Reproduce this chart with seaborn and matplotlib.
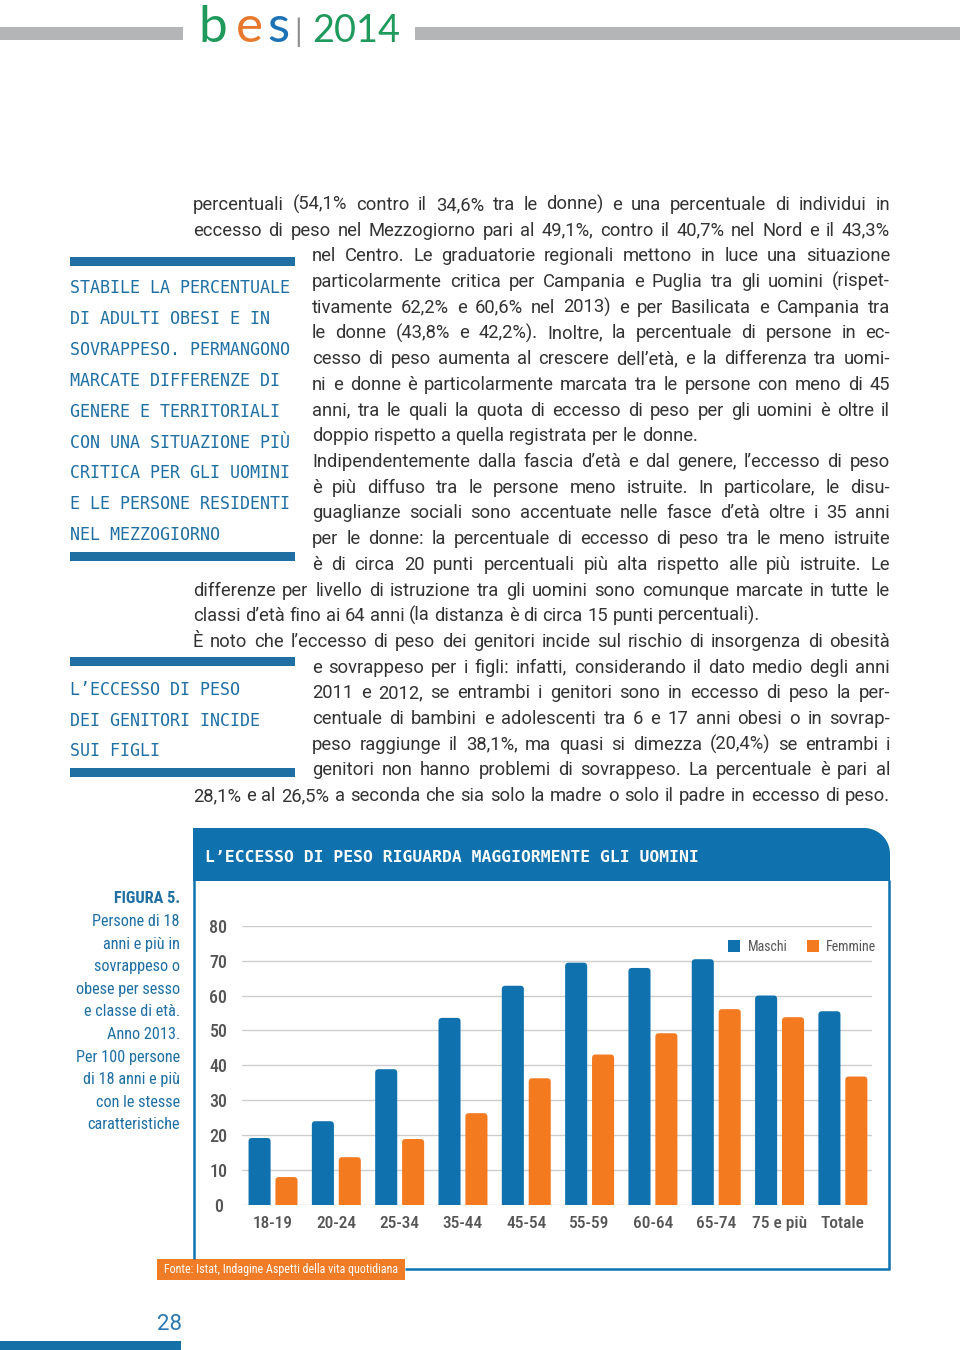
import numpy as np
import pandas as pd
import matplotlib
matplotlib.use("Agg")
import matplotlib.pyplot as plt
import seaborn as sns
from matplotlib import font_manager
from matplotlib.patches import Rectangle, Polygon, FancyBboxPatch

# ---------------- data ----------------
categorie = ["18-19", "20-24", "25-34", "35-44", "45-54", "55-59", "60-64", "65-74", "75 e più", "Totale"]
maschi = [19.2, 24.0, 38.9, 53.6, 62.8, 69.4, 67.9, 70.4, 60.0, 55.5]
femmine = [8.0, 13.7, 18.9, 26.3, 36.3, 43.1, 49.2, 56.1, 53.8, 36.8]
serie = ["Maschi", "Femmine"]
y_ticks = [0, 10, 20, 30, 40, 50, 60, 70, 80]

titolo_grafico = "L’ECCESSO DI PESO RIGUARDA MAGGIORMENTE GLI UOMINI"
didascalia = ["Persone di 18", "anni e più in", "sovrappeso o", "obese per sesso",
              "e classe di età.", "Anno 2013.", "Per 100 persone", "di 18 anni e più",
              "con le stesse", "caratteristiche"]
figura = "FIGURA 5."
fonte = "Fonte: Istat, Indagine Aspetti della vita quotidiana"
box1 = ["STABILE LA PERCENTUALE", "DI ADULTI OBESI E IN", "SOVRAPPESO. PERMANGONO",
        "MARCATE DIFFERENZE DI", "GENERE E TERRITORIALI", "CON UNA SITUAZIONE PIÙ",
        "CRITICA PER GLI UOMINI", "E LE PERSONE RESIDENTI", "NEL MEZZOGIORNO"]
box2 = ["L’ECCESSO DI PESO", "DEI GENITORI INCIDE", "SUI FIGLI"]
# (text, wide line?, justified?)
corpo = [
    ("percentuali (54,1% contro il 34,6% tra le donne) e una percentuale di individui in", True, True),
    ("eccesso di peso nel Mezzogiorno pari al 49,1%, contro il 40,7% nel Nord e il 43,3%", True, True),
    ("nel Centro. Le graduatorie regionali mettono in luce una situazione", False, True),
    ("particolarmente critica per Campania e Puglia tra gli uomini (rispet-", False, True),
    ("tivamente 62,2% e 60,6% nel 2013) e per Basilicata e Campania tra", False, True),
    ("le donne (43,8% e 42,2%). Inoltre, la percentuale di persone in ec-", False, True),
    ("cesso di peso aumenta al crescere dell’età, e la differenza tra uomi-", False, True),
    ("ni e donne è particolarmente marcata tra le persone con meno di 45", False, True),
    ("anni, tra le quali la quota di eccesso di peso per gli uomini è oltre il", False, True),
    ("doppio rispetto a quella registrata per le donne.", False, False),
    ("Indipendentemente dalla fascia d’età e dal genere, l’eccesso di peso", False, True),
    ("è più diffuso tra le persone meno istruite. In particolare, le disu-", False, True),
    ("guaglianze sociali sono accentuate nelle fasce d’età oltre i 35 anni", False, True),
    ("per le donne: la percentuale di eccesso di peso tra le meno istruite", False, True),
    ("è di circa 20 punti percentuali più alta rispetto alle più istruite. Le", False, True),
    ("differenze per livello di istruzione tra gli uomini sono comunque marcate in tutte le", True, True),
    ("classi d’età fino ai 64 anni (la distanza è di circa 15 punti percentuali).", True, False),
    ("È noto che l’eccesso di peso dei genitori incide sul rischio di insorgenza di obesità", True, True),
    ("e sovrappeso per i figli: infatti, considerando il dato medio degli anni", False, True),
    ("2011 e 2012, se entrambi i genitori sono in eccesso di peso la per-", False, True),
    ("centuale di bambini e adolescenti tra 6 e 17 anni obesi o in sovrap-", False, True),
    ("peso raggiunge il 38,1%, ma quasi si dimezza (20,4%) se entrambi i", False, True),
    ("genitori non hanno problemi di sovrappeso. La percentuale è pari al", False, True),
    ("28,1% e al 26,5% a seconda che sia solo la madre o solo il padre in eccesso di peso.", True, True),
]

# ---------------- style ----------------
BLUE = "#0f71ad"
ORANGE = "#f47a20"
SIDE = "#1f6fa3"
TEXT = "#333333"
GREY_T = "#555555"

sns.set_theme(style="white")
avail = {f.name for f in font_manager.fontManager.ttflist}

def pick(cands):
    for c in cands:
        if c in avail:
            return c
    return "DejaVu Sans"

BODY = pick(["Roboto", "Open Sans", "DejaVu Sans"])
COND = pick(["Roboto Condensed", "Liberation Sans Narrow", "Open Sans Condensed", "Roboto"])
MONO = pick(["DejaVu Sans Mono", "Liberation Mono"])
LOGO = pick(["Lato", "Roboto"])
plt.rcParams["font.family"] = [BODY, "DejaVu Sans"]

fig = plt.figure(figsize=(9.6, 13.5), dpi=100)
ov = fig.add_axes([0, 0, 1, 1], zorder=0)
ov.set_xlim(0, 960)
ov.set_ylim(1350, 0)
ov.axis("off")
rend = fig.canvas.get_renderer()

def width_of(s, **kw):
    t = ov.text(0, 0, s, **kw)
    w = t.get_window_extent(rend).width
    t.remove()
    return w

def fit_size(s, target, base, **kw):
    return base * target / width_of(s, fontsize=base, **kw)

# ---------------- header ----------------
ov.add_patch(Rectangle((0, 27), 183, 13, color="#b3b5b7", lw=0))
ov.add_patch(Rectangle((415, 27), 545, 13, color="#b3b5b7", lw=0))
for ch, xc, col in [("b", 213, "#1f9a5c"), ("e", 249, "#e8792c"), ("s", 278, "#1b72b5")]:
    ov.text(xc, 42, ch, fontsize=37, family=LOGO, fontweight="normal", color=col, va="baseline", ha="center")
ov.text(298, 42, "|", fontsize=22, family=LOGO, color="#8c8c8c", va="baseline", ha="center")
ov.text(312, 42, "2014", fontsize=fit_size("2014", 88, 30, family=LOGO),
        family=LOGO, color="#1f9a5c", va="baseline", ha="left")

# ---------------- side boxes ----------------
for yb in [257, 552, 657, 768]:
    ov.add_patch(Rectangle((70, yb), 225, 9, color=SIDE, lw=0))
mono_fs = fit_size(box1[0], 219, 12, family=MONO)
for i, s in enumerate(box1):
    ov.text(70, 286 + 30.9 * i + 7, s, family=MONO, fontsize=mono_fs, color=SIDE, va="baseline", ha="left")
for i, s in enumerate(box2):
    ov.text(70, 688 + 30.7 * i + 7, s, family=MONO, fontsize=mono_fs, color=SIDE, va="baseline", ha="left")

# ---------------- body text (justified) ----------------
ref = 12
space_ref = width_of("n n", fontsize=ref, family=BODY) - width_of("nn", fontsize=ref, family=BODY)
ratios = []
for s, wide, just in corpo:
    if just:
        x0 = 193 if wide else 312
        ratios.append((890 - x0) / width_of(s, fontsize=ref, family=BODY))
body_fs = min(13.2, ref * min(ratios) * 0.995)
space = space_ref * body_fs / ref
for i, (s, wide, just) in enumerate(corpo):
    x0 = 193 if wide else 312
    yb = 204 + 25.7 * i + 6
    words = s.split(" ")
    texts, widths = [], []
    for w in words:
        t = ov.text(x0, yb, w, fontsize=body_fs, family=BODY, color=TEXT, va="baseline", ha="left")
        texts.append(t)
        widths.append(t.get_window_extent(rend).width)
    gap = (890 - x0 - sum(widths)) / (len(words) - 1) if just else space
    x = x0
    for t, w in zip(texts, widths):
        t.set_x(x)
        x += w + gap

# ---------------- chart frame ----------------
r_ = 26
x0, x1, y0, y1 = 193, 890, 828, 881
tt = np.linspace(np.pi / 2, 0, 24)
arc = [(x1 - r_ + r_ * np.cos(a), y0 + r_ - r_ * np.sin(a)) for a in tt]
ov.add_patch(Polygon([(x0, y1), (x0, y0)] + arc + [(x1, y1)], closed=True, color=BLUE, lw=0))
ov.text(205, 862, titolo_grafico, family=MONO, fontsize=fit_size(titolo_grafico, 492, 12, family=MONO),
        fontweight="bold", color="white", va="baseline", ha="left")
ov.plot([193.5, 193.5], [880, 1259], color=BLUE, lw=1.8, solid_capstyle="butt")
ov.plot([888.5, 888.5], [880, 1269], color=BLUE, lw=1.8, solid_capstyle="butt")
ov.plot([405, 889.5], [1268.5, 1268.5], color=BLUE, lw=1.8, solid_capstyle="butt")
ov.add_patch(Rectangle((157, 1259), 248, 21, color="#f07c28", lw=0))
ov.text(281, 1270, fonte, family=COND, fontsize=fit_size(fonte, 235, 9, family=COND),
        color="white", va="center", ha="center")

# caption
cap_fs = fit_size("obese per sesso", 104, 11, family=COND)
ov.text(180, 897 + 6, figura, family=COND, fontsize=cap_fs, fontweight="bold", color=SIDE, va="baseline", ha="right")
for i, s in enumerate(didascalia):
    ov.text(180, 920 + 22.6 * i + 6, s, family=COND, fontsize=cap_fs, color=SIDE, va="baseline", ha="right")

# page number and tab
ov.text(169, 1325, "28", family=BODY, fontsize=16, color="#2a78b0", va="center", ha="center")
ov.add_patch(Rectangle((0, 1341), 181, 9, color="#1670a8", lw=0))

# ---------------- bar chart ----------------
df = pd.DataFrame({
    "classe": categorie * 2,
    "valore": maschi + femmine,
    "sesso": [serie[0]] * len(categorie) + [serie[1]] * len(categorie),
})
ax = fig.add_axes([242 / 960, 1 - 1205 / 1350, (872 - 242) / 960, (1205 - 925.7) / 1350], zorder=2)
ax.set_facecolor("none")
sns.barplot(data=df, x="classe", y="valore", hue="sesso", palette=[BLUE, ORANGE],
            saturation=1, width=0.85, gap=0.18, ax=ax, linewidth=0, zorder=3)
ax.set_ylim(0, 80)
ax.set_xlim(-0.49, 9.46)

# round the top corners of the bars produced by seaborn
px_x = (9.46 + 0.49) / 630.0
px_y = 80.0 / 279.3
for p in list(ax.patches):
    if not isinstance(p, Rectangle) or p.get_height() <= 0:
        continue
    bx, by = p.get_x(), p.get_y()
    bw, bh = p.get_width(), p.get_height()
    fb = FancyBboxPatch((bx, by - 3), bw, bh + 3,
                        boxstyle="round,pad=0,rounding_size=%f" % (3.5 * px_x),
                        mutation_aspect=px_y / px_x, facecolor=p.get_facecolor(),
                        edgecolor="none", zorder=3, clip_on=True)
    ax.add_patch(fb)
    p.set_visible(False)

ax.set_yticks(y_ticks)
ax.set_yticklabels([str(v) for v in y_ticks])
ax.yaxis.grid(True, color="#cdcdcd", lw=1)
ax.xaxis.grid(False)
ax.set_axisbelow(True)
for sp in ax.spines.values():
    sp.set_visible(False)
ax.set_xlabel("")
ax.set_ylabel("")
ax.tick_params(axis="y", length=0, pad=17, labelsize=13, labelcolor=GREY_T)
ax.tick_params(axis="x", length=0, pad=8, labelsize=12.5, labelcolor=GREY_T)
for lab in ax.get_yticklabels():
    lab.set_horizontalalignment("center")
for lab in ax.get_xticklabels() + ax.get_yticklabels():
    lab.set_family(COND)
    lab.set_fontweight("medium")
handles, labels = ax.get_legend_handles_labels()
ax.legend(handles, labels, loc="upper left", bbox_to_anchor=(721 / 960, 1 - 933 / 1350),
          bbox_transform=fig.transFigure, ncol=2, frameon=False, handlelength=0.9,
          handleheight=0.9, handletextpad=0.5, columnspacing=1.4, borderpad=0,
          prop={"family": COND, "size": 10}, labelcolor=GREY_T)

fig.savefig("out.png", dpi=100)
